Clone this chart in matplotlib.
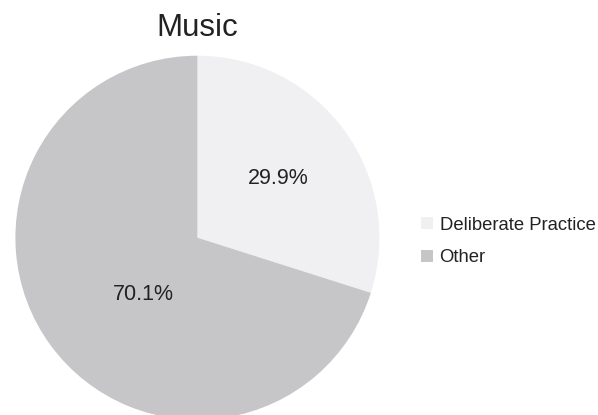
import matplotlib
matplotlib.use("Agg")
import matplotlib.pyplot as plt
from matplotlib.lines import Line2D

labels = ["Deliberate Practice", "Other"]
values = [29.9, 70.1]
colors = ["#f0f0f2", "#c6c6c8"]
title = "Music"

plt.rcParams['font.family'] = ['Liberation Sans', 'DejaVu Sans']

W, H = 598, 415
fig = plt.figure(figsize=(W/100, H/100), dpi=100)
cx, cy, r = 197.4, 237.7, 182.0
ax = fig.add_axes([(cx - r)/W, (H - cy - r)/H, 2*r/W, 2*r/H])
wedges, texts, autotexts = ax.pie(values, colors=colors, startangle=90, counterclock=False,
       autopct='%1.1f%%', pctdistance=0.55, radius=1.0,
       wedgeprops=dict(linewidth=0), textprops=dict(fontsize=15.5, color="#222222"))
# label placement inside the larger wedge (layout only)
autotexts[1].set_position((-0.297, -0.31))
ax.set_xlim(-1, 1)
ax.set_ylim(-1, 1)
ax.set_aspect('equal')
ax.axis('off')
for w in wedges:
    w.set_clip_on(False)

fig.text(cx/W, 1 - 28/H, title, ha='center', va='center', fontsize=22.5, color="#222222")

handles = [Line2D([], [], marker='s', linestyle='none', markersize=8, markerfacecolor=c,
                  markeredgewidth=0) for c in colors]
fig.legend(handles, labels, loc='center left', bbox_to_anchor=(410/W, 1 - 241.5/H),
           frameon=False, fontsize=13.3, handlelength=0.8, handletextpad=0.3,
           labelspacing=0.85, labelcolor="#222222", borderpad=0)

fig.savefig("out.png", dpi=100)
